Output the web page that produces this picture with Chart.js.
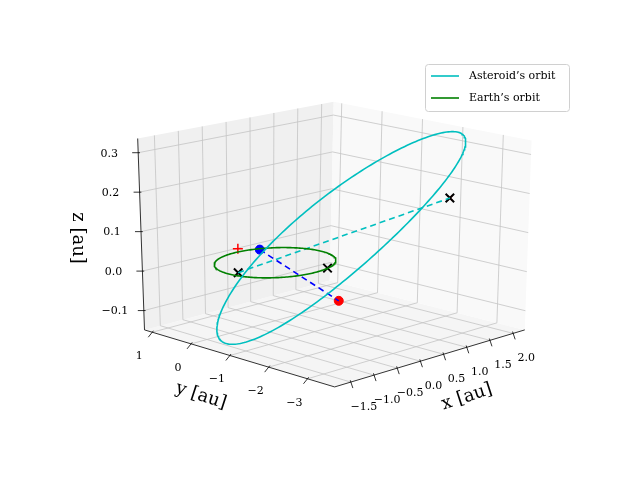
<!DOCTYPE html>
<html>
<head>
<meta charset="utf-8">
<script src="https://cdn.jsdelivr.net/npm/chart.js@4/dist/chart.umd.min.js"></script>
<style>body{margin:0;background:#fff}</style>
</head>
<body>
<canvas id="c" width="640" height="480"></canvas>
<script>
// axis limits and ticks
const xLim = [-1.85, 2.25];
const yLim = [-3.7, 1.2];
const zLim = [-0.149, 0.336];
const xTicks = [-1.5, -1.0, -0.5, 0.0, 0.5, 1.0, 1.5, 2.0];
const yTicks = [-3, -2, -1, 0, 1];
const zTicks = [-0.1, 0.0, 0.1, 0.2, 0.3];

// orbits
const earthRadius = 1.0;
const asteroidCenter = [-0.1, -1.73, 0.117];
const asteroidMajor = [2.15, -0.49, 0.21];
const asteroidMinor = [0.85, 1.75, 0.0];

// points
const earthPos = [0.40, 0.85, 0.0];
const asteroidPos = [-1.45, -3.32, 0.03];
const nodeEarthA = [-0.84, -0.05, 0.0];
const nodeEarthB = [0.33, -0.94, 0.0];
const nodeAsteroid = [0.74, -3.49, 0.223];
const plusMark = [-0.84, -0.05, 0.06];

// screen position of the 8 box corners, index [x][y][z] (0 = min, 1 = max)
const CORNERS = [
    [[[335, 392], [336, 175]], [[140, 333], [133, 135]]],
    [[[530, 333], [537, 137]], [[330, 282], [334, 97]]]
];

function proj(p) {
    const n = [
        (p[0] - xLim[0]) / (xLim[1] - xLim[0]),
        (p[1] - yLim[0]) / (yLim[1] - yLim[0]),
        (p[2] - zLim[0]) / (zLim[1] - zLim[0])
    ];
    let sx = 0, sy = 0;
    for (let i = 0; i < 2; i++) for (let j = 0; j < 2; j++) for (let k = 0; k < 2; k++) {
        const w = (i ? n[0] : 1 - n[0]) * (j ? n[1] : 1 - n[1]) * (k ? n[2] : 1 - n[2]);
        sx += w * CORNERS[i][j][k][0];
        sy += w * CORNERS[i][j][k][1];
    }
    return { x: sx, y: sy };
}

const N = 240;
const earthOrbit = [], asteroidOrbit = [];
for (let i = 0; i <= N; i++) {
    const t = 2 * Math.PI * i / N;
    earthOrbit.push(proj([earthRadius * Math.cos(t), earthRadius * Math.sin(t), 0]));
    asteroidOrbit.push(proj([0, 1, 2].map(k =>
        asteroidCenter[k] + asteroidMajor[k] * Math.cos(t) + asteroidMinor[k] * Math.sin(t))));
}

const SERIF = "'DejaVu Serif', 'Liberation Serif', serif";

const box3d = {
    id: 'box3d',
    beforeDatasetsDraw(chart) {
        const ctx = chart.ctx;
        const sx = chart.scales.x, sy = chart.scales.y;
        const P = (p) => { const q = proj(p); return [sx.getPixelForValue(q.x), sy.getPixelForValue(q.y)]; };
        const poly = (pts, fill) => {
            ctx.beginPath();
            pts.forEach((p, i) => { const q = P(p); i ? ctx.lineTo(q[0], q[1]) : ctx.moveTo(q[0], q[1]); });
            ctx.closePath(); ctx.fillStyle = fill; ctx.fill();
        };
        const line = (a, b, col, w) => {
            const p = P(a), q = P(b);
            ctx.beginPath(); ctx.moveTo(p[0], p[1]); ctx.lineTo(q[0], q[1]);
            ctx.strokeStyle = col; ctx.lineWidth = w; ctx.stroke();
        };
        const [x0, x1] = xLim, [y0, y1] = yLim, [z0, z1] = zLim;
        ctx.save();
        // panes
        poly([[x0, y0, z0], [x1, y0, z0], [x1, y1, z0], [x0, y1, z0]], '#f5f5f5');
        poly([[x0, y1, z0], [x1, y1, z0], [x1, y1, z1], [x0, y1, z1]], '#f0f0f0');
        poly([[x1, y0, z0], [x1, y1, z0], [x1, y1, z1], [x1, y0, z1]], '#f9f9f9');
        // grids
        const g = '#c4c4c4';
        xTicks.forEach(x => { line([x, y0, z0], [x, y1, z0], g, 0.8); line([x, y1, z0], [x, y1, z1], g, 0.8); });
        yTicks.forEach(y => { line([x0, y, z0], [x1, y, z0], g, 0.8); line([x1, y, z0], [x1, y, z1], g, 0.8); });
        zTicks.forEach(z => { line([x0, y1, z], [x1, y1, z], g, 0.8); line([x1, y1, z], [x1, y0, z], g, 0.8); });
        // axis lines
        line([x0, y0, z0], [x1, y0, z0], '#000', 0.8);
        line([x0, y0, z0], [x0, y1, z0], '#000', 0.8);
        line([x0, y1, z0], [x0, y1, z1], '#000', 0.8);
        // ticks + labels
        ctx.fillStyle = '#000'; ctx.font = '11px ' + SERIF;
        ctx.textAlign = 'center'; ctx.textBaseline = 'middle';
        const fmt = (v, d) => (v < 0 ? '\u2212' : '') + Math.abs(v).toFixed(d);
        const tick = (p, dx, dy, text, lx, ly) => {
            const q = P(p);
            ctx.beginPath(); ctx.moveTo(q[0] - dx * 0.3, q[1] - dy * 0.3); ctx.lineTo(q[0] + dx, q[1] + dy);
            ctx.strokeStyle = '#000'; ctx.lineWidth = 0.8; ctx.stroke();
            ctx.fillText(text, q[0] + lx, q[1] + ly);
        };
        xTicks.forEach(x => tick([x, y0, z0], 2, 6, fmt(x, 1), 13, 25));
        yTicks.forEach(y => tick([x0, y, z0], -4, 5, fmt(y, 0), -13, 24));
        zTicks.forEach(z => tick([x0, y1, z], -6, 0, fmt(z, 1), -29, 1));
        // axis labels
        ctx.font = '18px ' + SERIF;
        const label = (text, x, y, ang) => {
            ctx.save(); ctx.translate(x, y); ctx.rotate(ang * Math.PI / 180);
            ctx.fillText(text, 0, 0); ctx.restore();
        };
        label('x [au]', 467, 397, -18);
        label('y [au]', 201, 396, 18);
        label('z [au]', 78, 238, 90);
        ctx.restore();
    },
    afterDatasetsDraw(chart) {
        const ctx = chart.ctx;
        ctx.save();
        ctx.fillStyle = 'rgba(255,255,255,0.85)'; ctx.strokeStyle = '#d0d0d0'; ctx.lineWidth = 1;
        ctx.beginPath(); ctx.roundRect(425.5, 64.5, 144, 47, 3); ctx.fill(); ctx.stroke();
        ctx.font = '11px ' + SERIF; ctx.textBaseline = 'middle'; ctx.fillStyle = '#000';
        [['Asteroid\u2019s orbit', '#00bfbf', 76], ['Earth\u2019s orbit', '#008000', 98]].forEach(([t, c, y]) => {
            ctx.beginPath(); ctx.moveTo(431, y); ctx.lineTo(459, y);
            ctx.strokeStyle = c; ctx.lineWidth = 1.6; ctx.stroke();
            ctx.fillText(t, 469, y);
        });
        ctx.restore();
    }
};

const pt = (p) => [proj(p)];
const seg = (a, b) => [proj(a), proj(b)];

new Chart(document.getElementById('c'), {
    type: 'scatter',
    data: {
        datasets: [
            { data: asteroidOrbit, showLine: true, borderColor: '#00bfbf', borderWidth: 1.6, pointRadius: 0 },
            { data: earthOrbit, showLine: true, borderColor: '#008000', borderWidth: 1.6, pointRadius: 0 },
            { data: seg(nodeEarthA, nodeAsteroid), showLine: true, borderColor: '#00bfbf', borderWidth: 1.6, borderDash: [6, 4], pointRadius: 0 },
            { data: seg(earthPos, asteroidPos), showLine: true, borderColor: '#0000ff', borderWidth: 1.6, borderDash: [6, 4], pointRadius: 0 },
            { data: pt(earthPos), pointRadius: 4.5, backgroundColor: '#0000ff', borderColor: '#0000ff' },
            { data: pt(asteroidPos), pointRadius: 4.5, backgroundColor: '#ff0000', borderColor: '#ff0000' },
            { data: [proj(nodeEarthA), proj(nodeEarthB), proj(nodeAsteroid)], pointStyle: 'crossRot', pointRadius: 6, borderWidth: 2, borderColor: '#000' },
            { data: pt(nodeAsteroid), pointStyle: 'crossRot', pointRadius: 3.5, borderWidth: 1.3, borderColor: '#ff0000' },
            { data: pt(plusMark), pointStyle: 'cross', pointRadius: 5, borderWidth: 1.5, borderColor: '#ff0000' }
        ]
    },
    options: {
        responsive: false, animation: false, devicePixelRatio: 1,
        layout: { padding: 0 },
        clip: false,
        plugins: { legend: { display: false }, tooltip: { enabled: false } },
        scales: {
            x: { type: 'linear', min: 0, max: 640, display: false },
            y: { type: 'linear', min: 0, max: 480, reverse: true, display: false }
        }
    },
    plugins: [box3d]
});
</script>
</body>
</html>
